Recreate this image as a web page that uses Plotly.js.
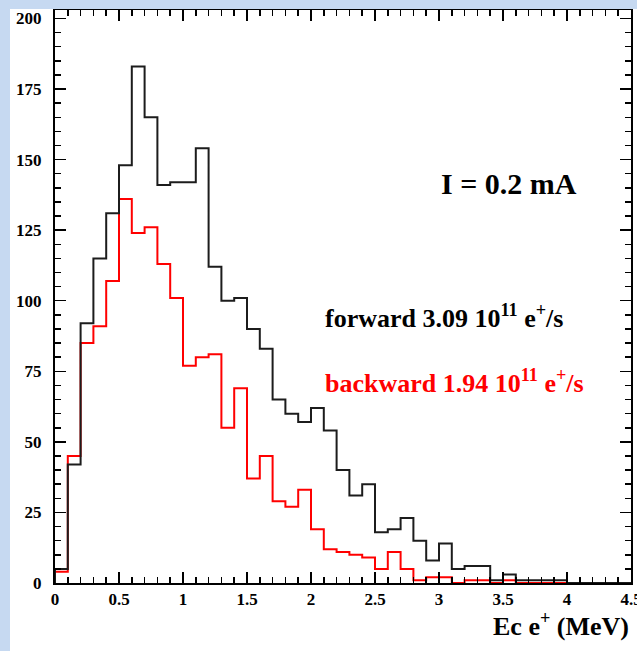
<!DOCTYPE html>
<html>
<head>
<meta charset="utf-8">
<script src="https://cdn.plot.ly/plotly-3.0.1.min.js"></script>
<style>
  html, body { margin: 0; padding: 0; background: #c6d9f1; width: 637px; height: 651px; overflow: hidden; }
  #chart { position: absolute; left: 10px; top: 9px; width: 627px; height: 642px; background: #ffffff; }
</style>
</head>
<body>
<div id="chart"></div>
<script>
// Positron energy spectra, 0.1 MeV bins from 0 to 4.5 MeV
const binStart = 0;
const binWidth = 0.1;

// forward counts per bin
const forwardCounts = [
  5, 42, 92, 115, 131, 148, 183, 165, 141, 142,
  142, 154, 112, 100, 101, 90, 83, 65, 60, 57,
  62, 54, 40, 31, 35, 18, 19, 23, 15, 8,
  14, 5, 6, 6, 1, 3, 1, 1, 1, 1,
  0, 0, 0, 0, 0
];

// backward counts per bin
const backwardCounts = [
  4, 45, 85, 91, 107, 136, 124, 126, 113, 101,
  77, 80, 81, 55, 69, 37, 45, 29, 27, 33,
  19, 12, 11, 10, 9, 5, 11, 5, 1, 2,
  2, 0, 1, 1, 0, 1, 0, 0, 0, 0,
  0, 0, 0, 0, 0
];

const xTickVals = [0, 0.5, 1, 1.5, 2, 2.5, 3, 3.5, 4, 4.5];
const xTickText = ['0', '0.5', '1', '1.5', '2', '2.5', '3', '3.5', '4', '4.5'];
const yTickVals = [0, 25, 50, 75, 100, 125, 150, 175, 200];
const yTickText = ['0', '25', '50', '75', '100', '125', '150', '175', '200'];

const currentLabel = 'I = 0.2 mA';
const forwardLabel = 'forward 3.09 10<sup>11</sup> e<sup>+</sup>/s';
const backwardLabel = 'backward 1.94 10<sup>11</sup> e<sup>+</sup>/s';
const xTitle = 'Ec e<sup>+</sup> (MeV)';

// Build an outlined step histogram: rise from zero at the first edge,
// hold each bin's count across the bin, drop back to zero at the last edge.
function stepOutline(counts) {
  const xs = [binStart];
  const ys = [0];
  counts.forEach((c, i) => {
    xs.push(binStart + i * binWidth);
    ys.push(c);
  });
  const end = binStart + counts.length * binWidth;
  xs.push(end); ys.push(counts[counts.length - 1]);
  xs.push(end); ys.push(0);
  return { xs, ys };
}

const fwd = stepOutline(forwardCounts);
const bwd = stepOutline(backwardCounts);

const serif = 'Liberation Serif, Times New Roman, serif';

const traces = [
  {
    x: bwd.xs, y: bwd.ys, type: 'scatter', mode: 'lines',
    line: { shape: 'hv', color: '#ff0000', width: 2 },
    hoverinfo: 'skip', showlegend: false
  },
  {
    x: fwd.xs, y: fwd.ys, type: 'scatter', mode: 'lines',
    line: { shape: 'hv', color: '#1c1c1c', width: 2 },
    hoverinfo: 'skip', showlegend: false
  }
];

const axisCommon = {
  showgrid: false,
  zeroline: false,
  showline: true,
  linecolor: '#000000',
  linewidth: 2,
  mirror: 'ticks',
  ticks: 'inside',
  ticklen: 11,
  tickwidth: 1.5,
  tickcolor: '#000000',
  ticklabeloverflow: 'allow',
  tickfont: { family: serif, size: 17, color: '#000000', weight: 'bold' },
  fixedrange: true
};

const layout = {
  width: 627,
  height: 642,
  margin: { l: 45, r: 6, t: 1, b: 68 },
  paper_bgcolor: '#ffffff',
  plot_bgcolor: '#ffffff',
  showlegend: false,
  xaxis: Object.assign({}, axisCommon, {
    range: [0, 4.5],
    tickmode: 'array',
    tickvals: xTickVals,
    ticktext: xTickText,
    ticklabelstandoff: 0,
    minor: { dtick: 0.1, ticks: 'inside', ticklen: 6, tickwidth: 1.5, tickcolor: '#000000', showgrid: false }
  }),
  yaxis: Object.assign({}, axisCommon, {
    range: [0, 203],
    tickmode: 'array',
    tickvals: yTickVals,
    ticktext: yTickText,
    ticklabelstandoff: 8,
    minor: { dtick: 5, ticks: 'inside', ticklen: 6, tickwidth: 1.5, tickcolor: '#000000', showgrid: false }
  }),
  annotations: [
    {
      text: currentLabel, xref: 'x', yref: 'y', x: 3.55, y: 141.5,
      xanchor: 'center', yanchor: 'middle', showarrow: false,
      font: { family: serif, size: 30, color: '#000000', weight: 'bold' }
    },
    {
      text: forwardLabel, xref: 'x', yref: 'y', x: 2.09, y: 94.5,
      xanchor: 'left', yanchor: 'middle', showarrow: false,
      font: { family: serif, size: 26, color: '#000000', weight: 'bold' }
    },
    {
      text: backwardLabel, xref: 'x', yref: 'y', x: 2.09, y: 71.5,
      xanchor: 'left', yanchor: 'middle', showarrow: false,
      font: { family: serif, size: 26, color: '#ff0000', weight: 'bold' }
    },
    {
      text: xTitle, xref: 'paper', yref: 'paper', x: 1.0, y: -0.072,
      xanchor: 'right', yanchor: 'middle', showarrow: false,
      font: { family: serif, size: 26, color: '#000000', weight: 'bold' }
    }
  ]
};

Plotly.newPlot('chart', traces, layout, { displayModeBar: false, staticPlot: true });
</script>
</body>
</html>
